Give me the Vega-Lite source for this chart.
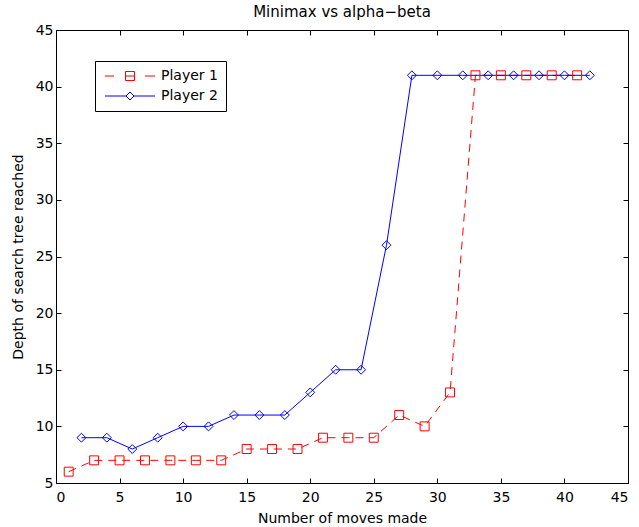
{
  "$schema": "https://vega.github.io/schema/vega-lite/v6.json",
  "width": 572,
  "height": 453,
  "autosize": {"type": "none"},
  "padding": {"left": 56, "top": 30, "right": 11, "bottom": 44},
  "background": "white",
  "title": {"text": "Minimax vs alpha−beta", "fontSize": 15, "fontWeight": "normal", "font": "DejaVu Sans", "color": "black", "offset": 3},
  "config": {
    "view": {"stroke": "black", "strokeWidth": 1},
    "font": "DejaVu Sans",
    "title": {"fontSize": 15, "fontWeight": "normal"},
    "axis": {"grid": false, "domainColor": "black", "tickColor": "black", "labelColor": "black", "titleColor": "black", "labelFontSize": 14, "titleFontSize": 14, "titleFontWeight": "normal", "tickSize": -5, "labelFont": "DejaVu Sans", "titleFont": "DejaVu Sans"}
  },
  "data": {"values": [
    {"move": 1, "depth": 6, "series": "Player 1"},
    {"move": 3, "depth": 7, "series": "Player 1"},
    {"move": 5, "depth": 7, "series": "Player 1"},
    {"move": 7, "depth": 7, "series": "Player 1"},
    {"move": 9, "depth": 7, "series": "Player 1"},
    {"move": 11, "depth": 7, "series": "Player 1"},
    {"move": 13, "depth": 7, "series": "Player 1"},
    {"move": 15, "depth": 8, "series": "Player 1"},
    {"move": 17, "depth": 8, "series": "Player 1"},
    {"move": 19, "depth": 8, "series": "Player 1"},
    {"move": 21, "depth": 9, "series": "Player 1"},
    {"move": 23, "depth": 9, "series": "Player 1"},
    {"move": 25, "depth": 9, "series": "Player 1"},
    {"move": 27, "depth": 11, "series": "Player 1"},
    {"move": 29, "depth": 10, "series": "Player 1"},
    {"move": 31, "depth": 13, "series": "Player 1"},
    {"move": 33, "depth": 41, "series": "Player 1"},
    {"move": 35, "depth": 41, "series": "Player 1"},
    {"move": 37, "depth": 41, "series": "Player 1"},
    {"move": 39, "depth": 41, "series": "Player 1"},
    {"move": 41, "depth": 41, "series": "Player 1"},
    {"move": 2, "depth": 9, "series": "Player 2"},
    {"move": 4, "depth": 9, "series": "Player 2"},
    {"move": 6, "depth": 8, "series": "Player 2"},
    {"move": 8, "depth": 9, "series": "Player 2"},
    {"move": 10, "depth": 10, "series": "Player 2"},
    {"move": 12, "depth": 10, "series": "Player 2"},
    {"move": 14, "depth": 11, "series": "Player 2"},
    {"move": 16, "depth": 11, "series": "Player 2"},
    {"move": 18, "depth": 11, "series": "Player 2"},
    {"move": 20, "depth": 13, "series": "Player 2"},
    {"move": 22, "depth": 15, "series": "Player 2"},
    {"move": 24, "depth": 15, "series": "Player 2"},
    {"move": 26, "depth": 26, "series": "Player 2"},
    {"move": 28, "depth": 41, "series": "Player 2"},
    {"move": 30, "depth": 41, "series": "Player 2"},
    {"move": 32, "depth": 41, "series": "Player 2"},
    {"move": 34, "depth": 41, "series": "Player 2"},
    {"move": 36, "depth": 41, "series": "Player 2"},
    {"move": 38, "depth": 41, "series": "Player 2"},
    {"move": 40, "depth": 41, "series": "Player 2"},
    {"move": 42, "depth": 41, "series": "Player 2"}
  ]},
  "resolve": {"axis": {"x": "independent", "y": "independent"}},
  "layer": [
    {
      "transform": [{"filter": "datum.series === 'Player 1'"}],
      "mark": {"type": "line", "strokeWidth": 1, "color": "#ff0000", "strokeDash": [8, 6]},
      "encoding": {
        "x": {"field": "move", "type": "quantitative", "scale": {"domain": [0, 45], "nice": false, "zero": false}, "axis": {"orient": "bottom", "title": "Number of moves made", "values": [0,5,10,15,20,25,30,35,40,45], "labelPadding": 12, "titlePadding": 7}},
        "y": {"field": "depth", "type": "quantitative", "scale": {"domain": [5, 45], "nice": false, "zero": false}, "axis": {"orient": "left", "title": "Depth of search tree reached", "values": [5,10,15,20,25,30,35,40,45], "labelPadding": 8, "titlePadding": 10}}
      }
    },
    {
      "transform": [{"filter": "datum.series === 'Player 2'"}],
      "mark": {"type": "line", "strokeWidth": 1, "color": "#0000ff"},
      "encoding": {
        "x": {"field": "move", "type": "quantitative", "axis": {"orient": "top", "labels": false, "title": null, "domain": false, "values": [0,5,10,15,20,25,30,35,40,45]}},
        "y": {"field": "depth", "type": "quantitative", "axis": {"orient": "right", "labels": false, "title": null, "domain": false, "values": [5,10,15,20,25,30,35,40,45]}}
      }
    },
    {
      "transform": [{"filter": "datum.series === 'Player 1'"}],
      "mark": {"type": "point", "filled": false, "strokeWidth": 1, "size": 80, "opacity": 1, "shape": "square", "color": "#ff0000"},
      "encoding": {
        "x": {"field": "move", "type": "quantitative", "axis": null},
        "y": {"field": "depth", "type": "quantitative", "axis": null}
      }
    },
    {
      "transform": [{"filter": "datum.series === 'Player 2'"}],
      "mark": {"type": "point", "filled": false, "strokeWidth": 1, "size": 80, "opacity": 1, "shape": "diamond", "color": "#0000ff"},
      "encoding": {
        "x": {"field": "move", "type": "quantitative", "axis": null},
        "y": {"field": "depth", "type": "quantitative", "axis": null}
      }
    },
    {
      "mark": {"type": "point", "filled": false, "strokeWidth": 1, "size": 100, "opacity": 0},
      "encoding": {
        "x": {"field": "move", "type": "quantitative", "axis": null},
        "y": {"field": "depth", "type": "quantitative", "axis": null},
        "color": {"field": "series", "type": "nominal", "scale": {"domain": ["Player 1", "Player 2"], "range": ["#ff0000", "#0000ff"]}, "legend": {
          "title": null, "orient": "none", "legendX": 39, "legendY": 31,
          "strokeColor": "black", "fillColor": "white", "padding": 8, "rowPadding": 6,
          "labelFontSize": 14, "labelColor": "black", "labelFont": "DejaVu Sans", "symbolSize": 100, "symbolStrokeWidth": 1, "labelOffset": 44, "symbolOpacity": 1
        }},
        "shape": {"field": "series", "type": "nominal", "scale": {"domain": ["Player 1", "Player 2"], "range": [
          "M-1,0H0.8M3.1,0H4.9M7,0H9M3.1,-0.9H4.9V0.9H3.1Z",
          "M-1,0H3.2M4.8,0H9M4,-0.8L4.8,0L4,0.8L3.2,0Z"
        ]}}
      }
    }
  ]
}
